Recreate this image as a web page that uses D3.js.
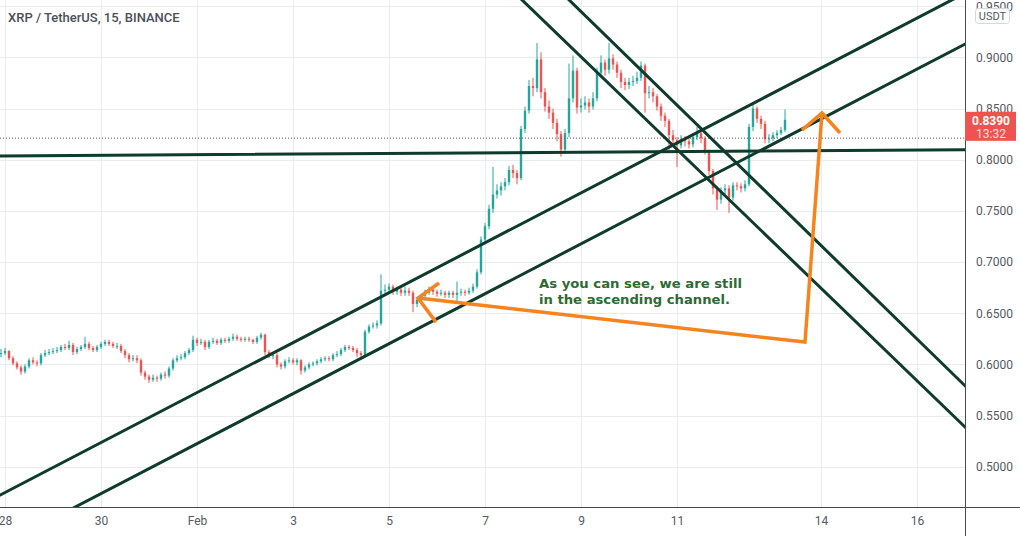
<!DOCTYPE html>
<html><head><meta charset="utf-8">
<script src="https://cdn.jsdelivr.net/npm/d3@7"></script>
<style>html,body{margin:0;padding:0;background:#fff;}svg{display:block;}</style>
</head><body>
<svg id="chart" width="1020" height="536"></svg>
<script>
// ---------------- DATA ----------------
const title = "XRP / TetherUS, 15, BINANCE";
const startTime = "2022-01-27T22:00";   // first candle
const intervalHours = 2;
const firstOpen = 0.610;
const closes = [
0.611,0.613,0.606,0.601,0.597,0.593,0.598,0.604,0.602,0.601,
0.609,0.611,0.612,0.613,0.614,0.617,0.616,0.619,0.612,0.615,
0.617,0.620,0.616,0.614,0.617,0.620,0.622,0.620,0.618,0.618,
0.613,0.609,0.605,0.606,0.604,0.592,0.588,0.585,0.587,0.586,
0.590,0.589,0.596,0.604,0.606,0.607,0.611,0.614,0.624,0.621,
0.622,0.617,0.622,0.623,0.621,0.624,0.623,0.625,0.627,0.625,
0.624,0.625,0.624,0.622,0.626,0.629,0.612,0.609,0.609,0.600,
0.598,0.603,0.604,0.602,0.604,0.594,0.597,0.600,0.601,0.603,
0.605,0.606,0.605,0.609,0.610,0.614,0.617,0.616,0.614,0.611,
0.609,0.632,0.637,0.638,0.640,0.672,0.673,0.676,0.671,0.673,
0.670,0.672,0.670,0.659,0.663,0.667,0.670,0.673,0.671,0.669,
0.670,0.668,0.670,0.668,0.670,0.671,0.670,0.672,0.676,0.690,
0.722,0.735,0.752,0.766,0.770,0.774,0.778,0.790,0.787,0.782,
0.830,0.848,0.872,0.870,0.898,0.866,0.852,0.846,0.836,0.825,
0.810,0.826,0.860,0.887,0.851,0.853,0.856,0.852,0.860,0.885,
0.895,0.888,0.899,0.893,0.885,0.876,0.873,0.876,0.877,0.880,
0.892,0.865,0.866,0.862,0.852,0.843,0.838,0.824,0.819,0.814,
0.820,0.818,0.815,0.822,0.826,0.821,0.808,0.789,0.772,0.761,
0.770,0.772,0.763,0.775,0.774,0.772,0.776,0.832,0.850,0.840,
0.835,0.820,0.821,0.824,0.826,0.829,0.839];
const highs = [
0.615,0.616,0.614,0.608,0.603,0.599,0.600,0.606,0.607,0.604,
0.611,0.614,0.615,0.616,0.617,0.619,0.620,0.623,0.621,0.617,
0.619,0.627,0.622,0.618,0.619,0.622,0.624,0.624,0.622,0.621,
0.620,0.615,0.611,0.609,0.609,0.606,0.594,0.590,0.590,0.589,
0.592,0.593,0.598,0.606,0.609,0.610,0.613,0.616,0.628,0.626,
0.625,0.624,0.624,0.626,0.625,0.626,0.626,0.627,0.630,0.629,
0.627,0.627,0.627,0.625,0.628,0.631,0.630,0.614,0.612,0.611,
0.602,0.605,0.607,0.606,0.606,0.605,0.599,0.602,0.603,0.605,
0.607,0.608,0.608,0.611,0.613,0.616,0.619,0.619,0.618,0.616,
0.613,0.634,0.639,0.641,0.643,0.688,0.678,0.679,0.678,0.676,
0.675,0.676,0.675,0.672,0.666,0.669,0.673,0.676,0.675,0.673,
0.673,0.672,0.672,0.672,0.681,0.674,0.673,0.675,0.679,0.693,
0.725,0.738,0.756,0.793,0.776,0.778,0.782,0.794,0.795,0.790,
0.833,0.852,0.878,0.880,0.914,0.905,0.870,0.858,0.850,0.840,
0.828,0.830,0.894,0.902,0.890,0.860,0.862,0.860,0.866,0.890,
0.902,0.898,0.914,0.903,0.896,0.888,0.880,0.880,0.882,0.886,
0.896,0.894,0.872,0.870,0.864,0.855,0.846,0.840,0.829,0.822,
0.824,0.823,0.821,0.826,0.832,0.829,0.823,0.810,0.791,0.774,
0.773,0.776,0.775,0.778,0.778,0.777,0.780,0.835,0.854,0.852,
0.843,0.838,0.825,0.827,0.829,0.832,0.849];
const lows = [
0.607,0.609,0.604,0.599,0.595,0.590,0.591,0.596,0.600,0.598,
0.599,0.607,0.609,0.610,0.611,0.612,0.614,0.614,0.609,0.610,
0.613,0.615,0.614,0.612,0.612,0.615,0.618,0.618,0.616,0.615,
0.611,0.606,0.602,0.603,0.601,0.589,0.585,0.582,0.583,0.583,
0.584,0.586,0.587,0.594,0.602,0.604,0.605,0.609,0.612,0.618,
0.619,0.614,0.615,0.620,0.619,0.619,0.621,0.621,0.623,0.623,
0.622,0.622,0.622,0.620,0.620,0.624,0.609,0.606,0.605,0.597,
0.595,0.596,0.601,0.600,0.599,0.590,0.592,0.595,0.598,0.599,
0.601,0.603,0.603,0.603,0.607,0.608,0.612,0.614,0.612,0.607,
0.606,0.607,0.630,0.635,0.635,0.638,0.668,0.670,0.668,0.668,
0.667,0.667,0.667,0.651,0.656,0.661,0.665,0.668,0.668,0.666,
0.667,0.665,0.665,0.665,0.660,0.667,0.667,0.668,0.670,0.674,
0.688,0.718,0.732,0.748,0.762,0.765,0.770,0.775,0.782,0.776,
0.780,0.826,0.845,0.862,0.866,0.860,0.847,0.840,0.830,0.818,
0.803,0.806,0.822,0.856,0.845,0.846,0.849,0.846,0.849,0.857,
0.880,0.882,0.884,0.888,0.880,0.870,0.868,0.869,0.872,0.874,
0.877,0.846,0.860,0.856,0.848,0.838,0.832,0.809,0.814,0.793,
0.811,0.813,0.811,0.812,0.819,0.816,0.805,0.785,0.766,0.751,
0.757,0.766,0.748,0.760,0.770,0.768,0.769,0.774,0.828,0.836,
0.830,0.816,0.816,0.818,0.821,0.824,0.827];

const priceTicks = [0.50,0.55,0.60,0.65,0.70,0.75,0.80,0.85,0.90,0.95];
const dateTicks = ["2022-01-28T00:00","2022-01-30T00:00","2022-02-01T00:00","2022-02-03T00:00","2022-02-05T00:00","2022-02-07T00:00","2022-02-09T00:00","2022-02-11T00:00","2022-02-14T00:00","2022-02-16T00:00"];
const dateTickLabels = ["28","30","Feb","3","5","7","9","11","14","16"];

// trend lines: two anchor points [time, price] each, drawn extended
const trendHorizontal = [["2022-01-28T00:00",0.8037],["2022-02-16T00:00",0.8095]];
const trendUpperChannel = [["2022-01-30T00:00",0.5236],["2022-02-13T00:00",0.8652]];
const trendLowerChannel = [["2022-01-30T00:00",0.4737],["2022-02-13T00:00",0.8154]];
const trendDescLower = [["2022-02-09T00:00",0.9006],["2022-02-16T00:00",0.5840]];
const trendDescUpper = [["2022-02-09T00:00",0.9448],["2022-02-16T00:00",0.6248]];

// orange arrow drawing
const arrowHeadLeft = [["2022-02-06T01:00",0.6795],["2022-02-05T14:30",0.6648],["2022-02-05T23:30",0.6413]];
const arrowBody = [["2022-02-05T14:30",0.6648],["2022-02-13T16:00",0.6218],["2022-02-14T00:30",0.8457]];
const arrowHeadRight = [["2022-02-13T14:30",0.8290],["2022-02-14T00:30",0.8457],["2022-02-14T09:30",0.8261]];

const noteAnchor = ["2022-02-08T03:00",0.6795];
const noteLines = ["As you can see, we are still","in the ascending channel."];

const lastPrice = 0.8390;
const lastPriceText = "0.8390";
const countdown = "13:32";
const markerLevel = 0.8211;
const currency = "USDT";

// ---------------- CHART ----------------
const W = 1020, H = 536, plotR = 965, plotB = 507;
const parse = d3.timeParse("%Y-%m-%dT%H:%M");
const svg = d3.select("#chart");
svg.append("rect").attr("width",W).attr("height",H).attr("fill","#fff");

const x = d3.scaleTime().domain([parse("2022-01-28T00:00"), parse("2022-02-16T00:00")]).range([5, 917]);
const y = d3.scaleLinear().domain([0.5, 0.9]).range([466.7, 57.4]);

svg.append("defs").append("clipPath").attr("id","plot")
  .append("rect").attr("x",0).attr("y",0).attr("width",plotR).attr("height",plotB);

// grid
const grid = svg.append("g").attr("clip-path","url(#plot)");
grid.selectAll(".hg").data(priceTicks).join("line")
  .attr("x1",0).attr("x2",plotR).attr("y1",d=>Math.round(y(d))+0.5).attr("y2",d=>Math.round(y(d))+0.5)
  .attr("stroke","#e9ebef").attr("stroke-width",1);
grid.selectAll(".vg").data(dateTicks).join("line")
  .attr("y1",0).attr("y2",plotB).attr("x1",d=>Math.round(x(parse(d)))+0.5).attr("x2",d=>Math.round(x(parse(d)))+0.5)
  .attr("stroke","#e9ebef").attr("stroke-width",1);

// candles
const t0 = parse(startTime);
const candles = closes.map((c,i)=>({
  t: d3.timeHour.offset(t0, i*intervalHours),
  o: i===0 ? firstOpen : closes[i-1], h: highs[i], l: lows[i], c
}));
const cg = svg.append("g").attr("clip-path","url(#plot)");
const up = "#26a69a", down = "#ef5350";
const bw = 2.4;
cg.selectAll(".wick").data(candles).join("line")
  .attr("x1",d=>x(d.t)).attr("x2",d=>x(d.t))
  .attr("y1",d=>y(d.h)).attr("y2",d=>y(d.l))
  .attr("stroke",d=>d.c>=d.o?up:down).attr("stroke-width",1);
cg.selectAll(".body").data(candles).join("rect")
  .attr("x",d=>x(d.t)-bw/2).attr("width",bw)
  .attr("y",d=>y(Math.max(d.o,d.c)))
  .attr("height",d=>Math.max(1, Math.abs(y(d.o)-y(d.c))))
  .attr("fill",d=>d.c>=d.o?up:down);

// dotted marker line
svg.append("line").attr("x1",0).attr("x2",plotR)
  .attr("y1",y(markerLevel)).attr("y2",y(markerLevel))
  .attr("stroke","#555").attr("stroke-width",1).attr("stroke-dasharray","1,2");

// trend lines (extended)
const tl = svg.append("g").attr("clip-path","url(#plot)");
[trendHorizontal,trendUpperChannel,trendLowerChannel,trendDescLower,trendDescUpper].forEach(p=>{
  const x1=x(parse(p[0][0])), y1=y(p[0][1]), x2=x(parse(p[1][0])), y2=y(p[1][1]);
  const m=(y2-y1)/(x2-x1);
  tl.append("line").attr("x1",-10).attr("y1",y1+m*(-10-x1))
    .attr("x2",plotR+10).attr("y2",y1+m*(plotR+10-x1))
    .attr("stroke","#0e3b2b").attr("stroke-width",3).attr("stroke-linecap","round");
});

// orange arrows
const lineGen = d3.line().x(d=>x(parse(d[0]))).y(d=>y(d[1]));
[arrowHeadLeft,arrowBody,arrowHeadRight].forEach(p=>{
  svg.append("path").attr("d",lineGen(p)).attr("fill","none")
    .attr("stroke","#f5841f").attr("stroke-width",3.5)
    .attr("stroke-linejoin","miter").attr("stroke-linecap","butt");
});

// note text
const nx = x(parse(noteAnchor[0])), ny = y(noteAnchor[1]);
const widths=[203,191];
noteLines.forEach((s,i)=>{
  svg.append("text").attr("x",nx).attr("y",ny+i*16).attr("dy","0.35em")
    .attr("font-family","'DejaVu Sans Condensed','DejaVu Sans',sans-serif").attr("font-weight","bold")
    .attr("font-size",13).attr("fill","#2e6a33")
    .attr("textLength",widths[i]).attr("lengthAdjust","spacingAndGlyphs")
    .text(s);
});

// title
svg.append("text").attr("x",8).attr("y",17).attr("dy","0.35em")
  .attr("font-family","Roboto, 'Liberation Sans', sans-serif").attr("font-weight",500)
  .attr("font-size",13).attr("fill","#4b4f5a").text(title);

// axes
const fontAxis = "Roboto, 'Liberation Sans', sans-serif";
const yAxis = d3.axisRight(y).tickValues(priceTicks).tickFormat(d3.format(".4f")).tickSize(0).tickPadding(11);
const yg = svg.append("g").attr("transform",`translate(${plotR},0)`).call(yAxis);
yg.select(".domain").remove();
yg.selectAll("text").attr("font-family",fontAxis).attr("font-size",12).attr("fill","#555a63");

const xAxis = d3.axisBottom(x).tickValues(dateTicks.map(parse)).tickFormat((d,i)=>dateTickLabels[i]).tickSize(0).tickPadding(9);
const xg = svg.append("g").attr("transform",`translate(0,${plotB})`).call(xAxis);
xg.select(".domain").remove();
xg.selectAll("text").attr("font-family",fontAxis).attr("font-size",12).attr("fill","#555a63");

// axis border lines
svg.append("line").attr("x1",0).attr("x2",W).attr("y1",plotB+0.5).attr("y2",plotB+0.5).attr("stroke","#4a4a4a").attr("stroke-width",1);
svg.append("line").attr("x1",plotR+0.5).attr("x2",plotR+0.5).attr("y1",0).attr("y2",H).attr("stroke","#4a4a4a").attr("stroke-width",1);

// currency badge
svg.append("rect").attr("x",975.5).attr("y",8.5).attr("width",34).attr("height",15).attr("rx",3)
  .attr("fill","#fff").attr("stroke","#d5d7dc");
svg.append("text").attr("x",992.5).attr("y",16).attr("dy","0.35em").attr("text-anchor","middle")
  .attr("font-family",fontAxis).attr("font-size",11).attr("fill","#555a63").text(currency);

// last price label
const ly = y(lastPrice);
svg.append("rect").attr("x",plotR).attr("y",ly-8).attr("width",51).attr("height",29).attr("fill","#ef5350");
svg.append("text").attr("x",plotR+26).attr("y",ly+0.5).attr("dy","0.35em").attr("text-anchor","middle")
  .attr("font-family",fontAxis).attr("font-weight",700).attr("font-size",12).attr("fill","#fff").text(lastPriceText);
svg.append("text").attr("x",plotR+26).attr("y",ly+14).attr("dy","0.35em").attr("text-anchor","middle")
  .attr("font-family",fontAxis).attr("font-size",12).attr("fill","#fde0df").text(countdown);
</script>
</body></html>
